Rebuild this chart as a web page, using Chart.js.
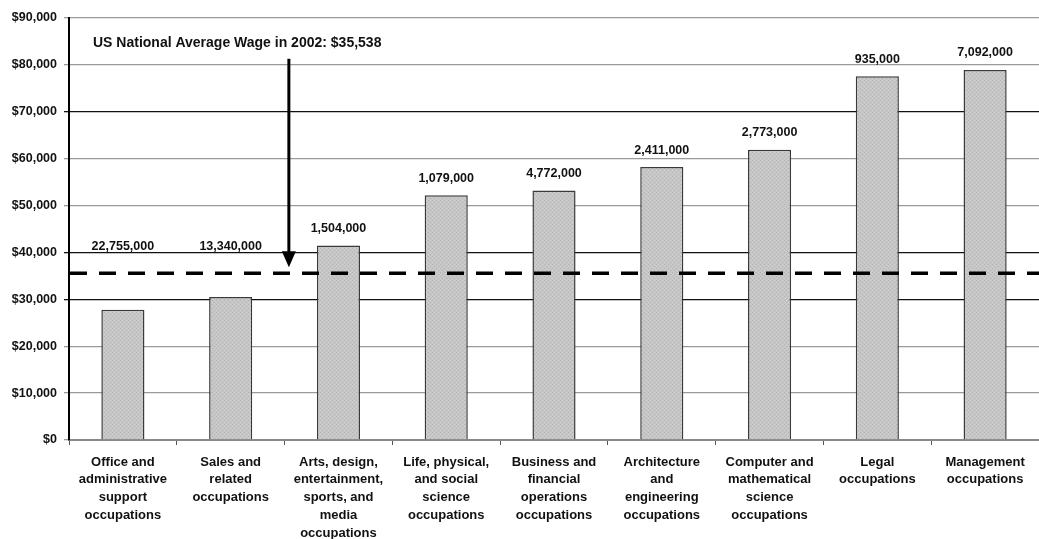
<!DOCTYPE html>
<html>
<head>
<meta charset="utf-8">
<script src="https://cdn.jsdelivr.net/npm/chart.js@4/dist/chart.umd.min.js"></script>
<style>
  html, body { margin: 0; padding: 0; background: #fff; }
  #wrap { width: 1039px; height: 539px; position: relative; }
</style>
</head>
<body>
<div id="wrap"><canvas id="wageChart"></canvas></div>
<script>
// occupation groups (x axis, multi-line labels)
const categories = [
    ["Office and", "administrative", "support", "occupations"],
    ["Sales and", "related", "occupations"],
    ["Arts, design,", "entertainment,", "sports, and", "media", "occupations"],
    ["Life, physical,", "and social", "science", "occupations"],
    ["Business and", "financial", "operations", "occupations"],
    ["Architecture", "and", "engineering", "occupations"],
    ["Computer and", "mathematical", "science", "occupations"],
    ["Legal", "occupations"],
    ["Management", "occupations"]
];

// average annual wage per group
const avgWages = [27800, 30500, 41500, 52200, 53200, 58200, 61900, 77600, 78900];

// employment shown above each bar
const employment = [22755000, 13340000, 1504000, 1079000, 4772000, 2411000, 2773000, 935000, 7092000];

// US national average wage 2002
const nationalAverage = 35538;
const annotationText = "US National Average Wage in 2002: $35,538";

// y axis ticks
const yMin = 0;
const yMax = 90000;
const yStep = 10000;
const darkGridValues = [30000, 40000, 70000];

const FONT = "'Liberation Sans', Arial, sans-serif";

// light hatch texture for the bars
function makePattern() {
    const c = document.createElement("canvas");
    c.width = 4; c.height = 4;
    const g = c.getContext("2d");
    g.fillStyle = "#c6c6c6";
    g.fillRect(0, 0, 4, 4);
    g.fillStyle = "#b4b4b4";
    g.fillRect(0, 0, 1, 1);
    g.fillRect(2, 2, 1, 1);
    g.fillStyle = "#cfcfcf";
    g.fillRect(2, 0, 1, 1);
    g.fillRect(0, 2, 1, 1);
    return g.createPattern(c, "repeat");
}

const overlayPlugin = {
    id: "overlay",
    afterDatasetsDraw(chart) {
        const ctx = chart.ctx;
        const x = chart.scales.x;
        const y = chart.scales.y;
        const area = chart.chartArea;

        // employment labels above bars
        ctx.save();
        ctx.font = "bold 12.5px " + FONT;
        ctx.fillStyle = "#111";
        ctx.textAlign = "center";
        ctx.textBaseline = "middle";
        employment.forEach((n, i) => {
            const px = x.getPixelForValue(i);
            const py = y.getPixelForValue(Math.max(avgWages[i], 37700)) - 17;
            ctx.fillText(n.toLocaleString("en-US"), px, py);
        });
        ctx.restore();

        // national average dashed line
        const ay = y.getPixelForValue(nationalAverage);
        ctx.save();
        ctx.strokeStyle = "#000";
        ctx.lineWidth = 3.5;
        ctx.setLineDash([17, 12]);
        ctx.beginPath();
        ctx.moveTo(area.left + 1, ay);
        ctx.lineTo(area.right, ay);
        ctx.stroke();
        ctx.restore();

        // arrow from annotation down to the line
        const arrowX = x.getPixelForValue(1.54);
        const top = y.getPixelForValue(81300);
        const tip = ay - 6;
        ctx.save();
        ctx.strokeStyle = "#000";
        ctx.fillStyle = "#000";
        ctx.lineWidth = 3;
        ctx.beginPath();
        ctx.moveTo(arrowX, top);
        ctx.lineTo(arrowX, tip - 12);
        ctx.stroke();
        ctx.beginPath();
        ctx.moveTo(arrowX - 7, tip - 16);
        ctx.lineTo(arrowX + 7, tip - 16);
        ctx.lineTo(arrowX, tip);
        ctx.closePath();
        ctx.fill();
        ctx.restore();

        // annotation text
        ctx.save();
        ctx.font = "bold 14px " + FONT;
        ctx.fillStyle = "#111";
        ctx.textAlign = "left";
        ctx.textBaseline = "middle";
        ctx.fillText(annotationText, area.left + 24, y.getPixelForValue(84600));
        ctx.restore();
    }
};

const chartCanvas = document.getElementById("wageChart").getContext("2d");

new Chart(chartCanvas, {
    type: "bar",
    data: {
        labels: categories,
        datasets: [{
            label: "Average wage",
            data: avgWages,
            backgroundColor: makePattern(),
            borderColor: "#3a3a3a",
            borderWidth: 1.5,
            borderSkipped: "bottom",
            barPercentage: 0.4,
            categoryPercentage: 1.0
        }]
    },
    options: {
        responsive: true,
        maintainAspectRatio: false,
        animation: false,
        layout: { padding: { top: 18, right: 0, left: 0, bottom: 0 } },
        plugins: {
            legend: { display: false },
            tooltip: { enabled: false }
        },
        scales: {
            x: {
                grid: {
                    offset: true,
                    drawOnChartArea: false,
                    tickLength: 5,
                    color: "#555"
                },
                border: { color: "#8a8a8a", width: 2 },
                ticks: {
                    autoSkip: false,
                    maxRotation: 0,
                    padding: 8,
                    color: "#111",
                    font: { family: FONT, size: 13, weight: "bold", lineHeight: 1.38 }
                },
                afterFit(scale) { scale.height = 99; }
            },
            y: {
                min: yMin,
                max: yMax,
                grid: {
                    tickLength: 5,
                    lineWidth: 1.3,
                    color: ctx => darkGridValues.includes(ctx.tick && ctx.tick.value) ? "#111" : "#9a9a9a"
                },
                border: { color: "#000", width: 2 },
                ticks: {
                    stepSize: yStep,
                    padding: 7,
                    color: "#111",
                    font: { family: FONT, size: 12.5, weight: "bold" },
                    callback: v => "$" + v.toLocaleString("en-US")
                },
                afterFit(scale) { scale.width = 69; }
            }
        }
    },
    plugins: [overlayPlugin]
});
</script>
</body>
</html>
